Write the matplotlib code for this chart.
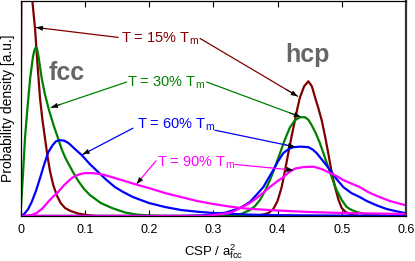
import matplotlib
matplotlib.use("Agg")
import matplotlib.pyplot as plt

plt.rcParams['font.family'] = ['Liberation Sans', 'DejaVu Sans']
plt.rcParams['mathtext.fontset'] = 'custom'
plt.rcParams['mathtext.rm'] = 'Liberation Sans'
plt.rcParams['mathtext.it'] = 'Liberation Sans:italic'
plt.rcParams['mathtext.bf'] = 'Liberation Sans:bold'

# ---------------- data (CSP, probability density in arbitrary units) ----------------
t15_fcc_x = [0.0, 0.0008, 0.002, 0.008, 0.014, 0.0184, 0.0226, 0.0268, 0.0304, 0.034, 0.0381,
             0.042, 0.0459, 0.051, 0.0563, 0.0625, 0.0693, 0.078, 0.0895, 0.105, 0.12, 0.6]
t15_fcc_y = [0, 150, 300, 420, 330, 216, 188, 149, 118, 97, 78,
             60, 45, 31, 21, 13, 8, 5, 2.5, 0.8, 0, 0]
t15_hcp_x = [0.0, 0.36, 0.3676, 0.378, 0.386, 0.3935, 0.4, 0.4065, 0.4115, 0.4168, 0.422,
             0.4272, 0.431, 0.435, 0.4415, 0.448, 0.4535, 0.4584, 0.4636, 0.4688, 0.474,
             0.479, 0.484, 0.4895, 0.495, 0.4999, 0.506, 0.5128, 0.52, 0.5284, 0.6]
t15_hcp_y = [0, 0, 0.3, 1.5, 3, 7, 15, 29, 45, 63, 80,
             96, 108, 119, 130, 135, 130, 119, 108, 96, 80,
             63, 45, 29, 16, 8, 4, 2, 0.7, 0, 0]

t30_fcc_x = [0.0, 0.0008, 0.002, 0.0044, 0.007, 0.0105, 0.015, 0.0195, 0.022, 0.0237, 0.0255,
             0.028, 0.033, 0.038, 0.0444, 0.0515, 0.0584, 0.064, 0.07, 0.0817, 0.09, 0.099,
             0.108, 0.125, 0.1424, 0.1626, 0.18, 0.2, 0.22, 0.6]
t30_fcc_y = [0, 11, 22, 48, 78, 106, 138, 160, 167, 169, 168,
             160, 138, 122, 106, 91, 78, 67, 58, 44, 35, 27,
             21, 13, 8, 3.5, 1.5, 0.5, 0, 0]
t30_hcp_x = [0.0, 0.31, 0.325, 0.3416, 0.3572, 0.365, 0.3727, 0.3805, 0.3883, 0.396, 0.4039,
             0.4117, 0.4195, 0.4272, 0.435, 0.4428, 0.448, 0.4532, 0.4596, 0.466, 0.4725,
             0.479, 0.4855, 0.492, 0.5, 0.5077, 0.5155, 0.5233, 0.535, 0.55, 0.575, 0.6]
t30_hcp_y = [0, 0, 0.4, 1.5, 6, 10, 16, 25, 36, 49, 63,
             77, 89, 96, 99, 99, 96.5, 91, 83, 73, 61,
             49, 37, 26, 16, 9, 6, 4, 2, 0.8, 0, 0]

t60_fcc_x = [0.0, 0.003, 0.007, 0.012, 0.0174, 0.024, 0.0304, 0.037, 0.0433, 0.05, 0.0555,
             0.0615, 0.068, 0.075, 0.085, 0.0953, 0.108, 0.121, 0.134, 0.147, 0.16,
             0.175, 0.2, 0.225, 0.25, 0.275, 0.3, 0.35, 0.4, 0.5, 0.6]
t60_fcc_y = [0, 0.5, 3, 7, 14, 25, 38, 52, 64, 71, 75,
             76, 75.5, 73, 67, 61, 52, 44, 36, 29, 24,
             19, 13, 9, 6, 4.3, 3, 1.5, 0.8, 0.3, 0]
t60_hcp_x = [0.0, 0.25, 0.28, 0.30, 0.32, 0.3416, 0.357, 0.367, 0.378, 0.386, 0.3935,
             0.401, 0.409, 0.417, 0.4245, 0.436, 0.448, 0.455, 0.461, 0.471, 0.482,
             0.492, 0.5024, 0.515, 0.528, 0.539, 0.555, 0.570, 0.585, 0.6]
t60_hcp_y = [0, 0, 0.5, 1.5, 3.5, 8, 14, 21, 29, 38, 46,
             55, 63, 67, 69, 69.5, 69, 66.5, 63, 55, 46,
             37, 29, 23, 19, 15, 10.5, 7, 4.7, 2.8]

t90_fcc_x = [0.0, 0.01, 0.0174, 0.025, 0.034, 0.0428, 0.05, 0.0584, 0.068, 0.0797, 0.09,
             0.1, 0.111, 0.1215, 0.1315, 0.147, 0.1626, 0.18, 0.2, 0.225, 0.25,
             0.275, 0.3, 0.325, 0.35, 0.4, 0.45, 0.5, 0.55, 0.6]
t90_fcc_y = [0, 0.3, 1, 3, 7.5, 14, 19, 24, 31, 38, 41.5,
             43, 43, 42.3, 41, 38, 35, 31.5, 28, 23, 19,
             15, 12, 9.5, 7.5, 5.5, 4, 3, 2.5, 2]
t90_hcp_x = [0.0, 0.28, 0.30, 0.315, 0.33, 0.3416, 0.357, 0.3676, 0.378, 0.388, 0.398,
             0.409, 0.418, 0.4272, 0.44, 0.4557, 0.469, 0.482, 0.492, 0.5024, 0.515,
             0.528, 0.541, 0.555, 0.575, 0.6]
t90_hcp_y = [0, 0, 1, 2, 4, 8, 13, 18, 23.5, 29, 34,
             39, 44, 47.5, 49, 49.5, 47, 43, 40, 36, 32.5,
             29, 24, 20, 15, 10.7]

labels = ["T = 15% T$_\\mathrm{m}$", "T = 30% T$_\\mathrm{m}$",
          "T = 60% T$_\\mathrm{m}$", "T = 90% T$_\\mathrm{m}$"]
colors = ["#800000", "#008000", "#0000ff", "#ff00ff"]
xticks = [0, 0.1, 0.2, 0.3, 0.4, 0.5, 0.6]
xticklabels = ["0", "0.1", "0.2", "0.3", "0.4", "0.5", "0.6"]

# label text centres, line starts and arrow tips (data coordinates)
text_pos = [(0.217, 178), (0.2257, 134), (0.242, 91), (0.2724, 53)]
left_start = [(0.152, 179), (0.1653, 134.3), (0.175, 88), (0.2109, 55.3)]
left_tip = [(0.0241, 189), (0.0475, 108.7), (0.0968, 61.7), (0.1809, 32.2)]
right_start = [(0.2794, 178), (0.2898, 134.3), (0.3027, 86), (0.3339, 51.7)]
right_tip = [(0.4314, 120), (0.4361, 99.3), (0.4272, 69.3), (0.4246, 46)]

fig = plt.figure(figsize=(4.15, 2.61), dpi=100)
ax = fig.add_axes([20.5 / 415, 45 / 261, 385.5 / 415, 215.5 / 261])

series = [(t15_fcc_x, t15_fcc_y, t15_hcp_x, t15_hcp_y),
          (t30_fcc_x, t30_fcc_y, t30_hcp_x, t30_hcp_y),
          (t60_fcc_x, t60_fcc_y, t60_hcp_x, t60_hcp_y),
          (t90_fcc_x, t90_fcc_y, t90_hcp_x, t90_hcp_y)]
for (fx, fy, hx, hy), c in zip(series, colors):
    ax.plot(fx, fy, color=c, lw=1.6, solid_joinstyle='round')
    ax.plot(hx, hy, color=c, lw=1.6, solid_joinstyle='round')

for i, c in enumerate(colors):
    ax.text(text_pos[i][0], text_pos[i][1], labels[i], color=c, fontsize=10.5,
            ha='center', va='center')
    for s, t in ((left_start[i], left_tip[i]), (right_start[i], right_tip[i])):
        ax.annotate('', xy=t, xytext=s,
                    arrowprops=dict(arrowstyle='-', color=c, lw=0.9,
                                    shrinkA=0, shrinkB=0))
        # short black arrow head at the tip
        dx = t[0] - s[0]
        dy = t[1] - s[1]
        f = 0.12
        ax.annotate('', xy=t, xytext=(t[0] - dx * f, t[1] - dy * f),
                    arrowprops=dict(arrowstyle='-|>,head_length=0.4,head_width=0.15',
                                    color='black', lw=0.5, shrinkA=0, shrinkB=0))

ax.text(0.0719, 136, "fcc", color="#666666", fontsize=18, fontweight='bold',
        ha='center', va='baseline')
ax.text(0.4467, 154.3, "hcp", color="#666666", fontsize=18, fontweight='bold',
        ha='center', va='baseline')

ax.set_xlim(0, 0.6)
ax.set_ylim(0, 216)
ax.set_xticks(xticks)
ax.set_xticklabels(xticklabels, fontsize=9)
ax.set_yticks([])
ax.tick_params(axis='x', direction='in', top=True, length=4, width=0.8, pad=6)
for s in ['left', 'top', 'bottom']:
    ax.spines[s].set_linewidth(0.9)
ax.spines['right'].set_linewidth(1.6)
ax.spines['right'].set_color('#333333')
ax.set_xlabel("CSP / a$^2_\\mathrm{fcc}$", fontsize=9.5, labelpad=4)
ax.set_ylabel("Probability density [a.u.]", fontsize=10, labelpad=4)

fig.savefig("out.png", dpi=100)
